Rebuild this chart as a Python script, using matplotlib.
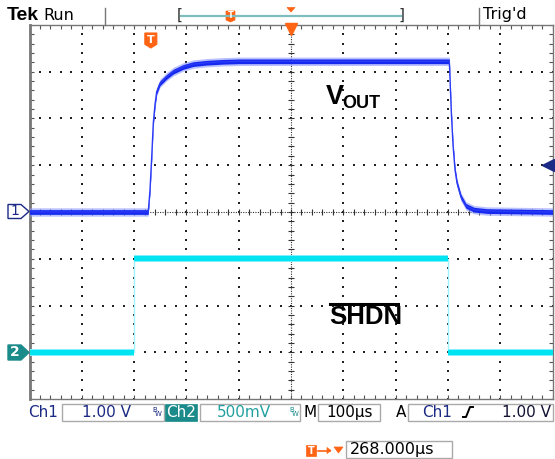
import numpy as np
import matplotlib.pyplot as plt
from matplotlib.patches import Polygon, Rectangle
from matplotlib.lines import Line2D

W, H = 555, 459

# scope settings
time_per_div = 100.0   # us/div
ch1_scale = 1.0        # V/div
ch2_scale = 0.5        # V/div
ch1_offset = 0.0       # div
ch2_offset = -3.0      # div
trig_time = 232.0      # us from left edge (268 us before center)
trig_level = 1.0       # V

# Ch1: VOUT (time in us from left edge of screen, volts)
ch1_t = [0, 227.0, 230.4, 233.7, 236.7, 240.0, 243.2, 249.5, 262.3, 275.0, 294.1,
         313.2, 338.8, 370.6, 402.5, 802.7, 804.0, 806.5, 809.8, 813.6, 817.4,
         825.0, 834.6, 849.9, 874.8, 1000]
ch1_v = [0, 0, 0.47, 1.18, 1.90, 2.30, 2.57, 2.75, 2.89, 3.00, 3.10,
         3.16, 3.19, 3.21, 3.22, 3.22, 2.86, 2.14, 1.43, 0.90, 0.62,
         0.32, 0.13, 0.05, 0.02, 0]

# Ch2: SHDN
ch2_t = [0, 200, 200, 800, 800, 1000]
ch2_v = [0, 0, 1.0, 1.0, 0, 0]

navy = '#1b2a85'
teal = '#1a8a8a'
orange = '#ff6414'
font = 'DejaVu Sans'


def fx(x):
    return x / W


def fy(y):
    return 1 - y / H


def poly(pts, **kw):
    fig.add_artist(Polygon([(fx(x), fy(y)) for x, y in pts], closed=True,
                           transform=fig.transFigure, **kw))


def rect(x0, y0, x1, y1, **kw):
    fig.add_artist(Rectangle((fx(x0), fy(y1)), (x1 - x0) / W, (y1 - y0) / H,
                             transform=fig.transFigure, **kw))


def line(xs, ys, **kw):
    fig.add_artist(Line2D([fx(x) for x in xs], [fy(y) for y in ys],
                          transform=fig.transFigure, **kw))


def txt(x, y, s, **kw):
    kw.setdefault('ha', 'center')
    kw.setdefault('va', 'center')
    kw.setdefault('family', font)
    fig.text(fx(x), fy(y), s, **kw)


fig = plt.figure(figsize=(W / 100, H / 100), dpi=100)
gl, gr, gt, gb = 29.5, 552.5, 24.8, 399.2
ax = fig.add_axes([fx(gl), fy(gb), (gr - gl) / W, (gb - gt) / H])
ax.set_xlim(0, 10 * time_per_div)
ax.set_ylim(-4, 4)
ax.set_xticks([])
ax.set_yticks([])
for s in ax.spines.values():
    s.set_color('#777777')
    s.set_linewidth(1.0)
ax.spines['left'].set_linewidth(2.0)

# graticule
xs = np.arange(0, 1000.1, 20)
ys = np.arange(-4, 4.01, 0.2)
for gx in range(100, 1000, 100):
    if gx != 500:
        ax.scatter(np.full(len(ys), gx), ys, s=0.7, marker='s', c='#222222', lw=0)
for gy in [-3, -2, -1, 1, 2, 3]:
    ax.scatter(xs, np.full(len(xs), gy), s=0.7, marker='s', c='#222222', lw=0)
ax.axhline(0, color='#333333', lw=0.8, ls=(0, (1, 1.2)))
ax.axvline(500, color='#333333', lw=0.8, ls=(0, (1, 1.2)))
ax.plot(xs, np.zeros(len(xs)), ls='none', marker='|', ms=4, mew=0.8, color='#333333')
ax.plot(np.full(len(ys), 500), ys, ls='none', marker='_', ms=4, mew=0.8, color='#333333')
ax.plot(xs, np.full(len(xs), 4), ls='none', marker='|', ms=6, mew=0.8, color='#555555')
ax.plot(xs, np.full(len(xs), -4), ls='none', marker='|', ms=6, mew=0.8, color='#555555')
ax.plot(np.zeros(len(ys)), ys, ls='none', marker='_', ms=6, mew=0.8, color='#555555')
ax.plot(np.full(len(ys), 1000), ys, ls='none', marker='_', ms=6, mew=0.8, color='#555555')

# Ch2 trace
t2 = np.array(ch2_t, dtype=float)
d2 = np.array(ch2_v) / ch2_scale + ch2_offset
ax.plot(t2, d2, color='#9ff3ff', lw=1.0, zorder=3)
ax.fill_between(t2, d2 - 0.075, d2 + 0.075, color='#80f0ff', lw=0, zorder=3)
ax.fill_between(t2, d2 - 0.05, d2 + 0.05, color='#00e4f2', lw=0, zorder=4)

# Ch1 trace
t1 = np.array(ch1_t, dtype=float)
d1 = np.array(ch1_v) / ch1_scale + ch1_offset
ax.fill_between(t1, d1 - 0.09, d1 + 0.09, color='#8c98ff', lw=0, alpha=0.6, zorder=5)
ax.fill_between(t1, d1 - 0.05, d1 + 0.05, color='#1428f0', lw=0, zorder=6)
ax.plot(t1, d1, color='#2a3af5', lw=1.0, zorder=6)

# trigger level and position markers
ax.plot(991, trig_level / ch1_scale + ch1_offset, marker='<', ms=8, color=navy,
        clip_on=False, zorder=8)
ax.plot([993, 1000], [trig_level / ch1_scale + ch1_offset] * 2, color=navy, lw=1.2,
        clip_on=False, zorder=8)
ax.plot(500, 3.92, marker='v', ms=8, color=orange, clip_on=False, zorder=8)


def tmark(cx, cy, w, h, fs):
    poly([(cx - w / 2, cy - h / 2), (cx + w / 2, cy - h / 2), (cx + w / 2, cy + h / 4),
          (cx, cy + h / 2), (cx - w / 2, cy + h / 4)], facecolor=orange, edgecolor=orange,
         lw=0.8, zorder=10)
    txt(cx, cy - 0.5, 'T', color='white', fontsize=fs, weight='bold', zorder=11)


tx = gl + trig_time * (gr - gl) / 1000
tmark(tx, 40.5, 12, 15, 8)

# channel ground markers
y1 = 211.5
poly([(8, y1 - 7), (21, y1 - 7), (29, y1), (21, y1 + 7), (8, y1 + 7)],
     facecolor='white', edgecolor=navy, lw=1.0)
txt(14.5, y1, '1', color=navy, fontsize=10)
y2 = 352.5
poly([(8, y2 - 7.5), (21, y2 - 7.5), (29, y2), (21, y2 + 7.5), (8, y2 + 7.5)],
     facecolor=teal, edgecolor=teal, lw=1.0)
txt(15, y2, '2', color='white', fontsize=10, weight='bold')

# signal labels
txt(335, 97, 'V', color='black', fontsize=19.5, weight='bold', family='Liberation Sans')
txt(361.5, 103.5, 'OUT', color='black', fontsize=13, weight='bold', family='Liberation Sans')
txt(365.5, 317.5, 'SHDN', color='black', fontsize=18.5, weight='bold', family='Liberation Sans')
line([330, 398], [303.5, 303.5], color='black', lw=2.2)

# top status line
txt(7, 15, 'Tek', color='black', fontsize=14, weight='bold', family='Liberation Sans', ha='left')
txt(43, 15, 'Run', color='black', fontsize=11.5, ha='left')
txt(483, 15, "Trig'd", color='black', fontsize=11.5, ha='left')
line([104.6, 104.6], [8, 24.8], color='#777777', lw=1.0)
line([479.5, 479.5], [8, 24.8], color='#777777', lw=1.0)
line([181, 401], [15.5, 15.5], color='#7dbdbd', lw=1.6)
txt(180, 15, '[', color='#333333', fontsize=11)
txt(402, 15, ']', color='#333333', fontsize=11)
poly([(226, 11), (235, 11), (235, 20), (230.5, 22), (226, 20)], facecolor=orange,
     edgecolor=orange, lw=0.5)
txt(230.5, 15.5, 'T', color='white', fontsize=6, weight='bold')
poly([(287, 7.5), (295, 7.5), (291, 12)], facecolor=orange, edgecolor=orange, lw=0.5)

# bottom readout
rb0, rb1, ry = 404, 421, 412.5
txt(28, ry, 'Ch1', color=navy, fontsize=11, ha='left')
rect(61.8, rb0, 163.6, rb1, facecolor='white', edgecolor='#aaaaaa', lw=1.0)
txt(106, ry, '1.00 V', color=navy, fontsize=11)
txt(154.5, ry - 3, 'B', color=navy, fontsize=5)
txt(158.5, ry + 1.5, 'W', color=navy, fontsize=5)
rect(164.7, rb0, 197.2, rb1, facecolor=teal, edgecolor=teal, lw=0.5)
txt(181, ry, 'Ch2', color='white', fontsize=11)
rect(199.6, rb0, 300.4, rb1, facecolor='white', edgecolor='#aaaaaa', lw=1.0)
txt(243.5, ry, '500mV', color='#22a0a0', fontsize=11)
txt(291.5, ry - 3, 'B', color=teal, fontsize=5)
txt(295.5, ry + 1.5, 'W', color=teal, fontsize=5)
txt(310, ry, 'M', color='black', fontsize=11)
rect(318, rb0, 380, rb1, facecolor='white', edgecolor='#aaaaaa', lw=1.0)
txt(349.5, ry, '100µs', color='black', fontsize=11)
txt(401, ry, 'A', color='black', fontsize=11)
rect(408, rb0, 553, rb1, facecolor='white', edgecolor='#aaaaaa', lw=1.0)
txt(437, ry, 'Ch1', color=navy, fontsize=11)
line([463, 466, 468, 470, 473], [417, 417, 412, 407, 407], color='black', lw=1.4)
txt(527, ry, '1.00 V', color='#111133', fontsize=11)

# trigger position readout
poly([(306, 445), (316, 445), (316, 456), (306, 456)], facecolor=orange,
     edgecolor=orange, lw=0.5)
txt(311, 450.5, 'T', color='white', fontsize=7, weight='bold')
line([318, 330], [450.5, 450.5], color=orange, lw=1.2)
poly([(327, 447.5), (331, 450.5), (327, 453.5)], facecolor=orange, edgecolor=orange, lw=0.5)
poly([(334, 447), (343, 447), (338.5, 453)], facecolor=orange, edgecolor=orange, lw=0.5)
rect(346, 441, 452, 458, facecolor='white', edgecolor='#aaaaaa', lw=1.0)
txt(392, 449.5, '268.000µs', color='black', fontsize=11.5)

fig.savefig('out.png', dpi=100)
